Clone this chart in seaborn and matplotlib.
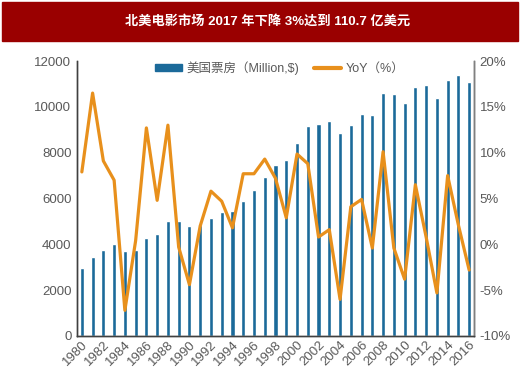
import numpy as np
import pandas as pd
import matplotlib
matplotlib.use("Agg")
import matplotlib.pyplot as plt
import seaborn as sns
from matplotlib.patches import Rectangle
from matplotlib.lines import Line2D
from matplotlib.ticker import FuncFormatter

years = list(range(1980, 2017))
box_office = [2966, 3461, 3753, 4015, 3723, 3766, 4262, 4437, 5032, 5018,
              4800, 4857, 5163, 5398, 5469, 5905, 6371, 6953, 7462, 7667,
              8422, 9160, 9240, 9380, 8846, 9221, 9675, 9644, 10618, 10574,
              10181, 10853, 10940, 10386, 11158, 11403, 11071]
yoy = [7.9, 16.5, 9.1, 7.0, -7.2, 0.4, 12.7, 4.8, 13.0, -0.3,
       -4.4, 2.0, 5.8, 4.7, 1.8, 7.7, 7.7, 9.3, 7.2, 2.9,
       9.85, 8.8, 0.8, 1.6, -6.0, 4.1, 4.9, -0.4, 10.1, -0.4,
       -3.8, 6.5, 0.8, -5.3, 7.5, 2.1, -2.8]
title = "北美电影市场 2017 年下降 3%达到 110.7 亿美元"
bar_label = "美国票房（Million,$)"
line_label = "YoY（%）"

df = pd.DataFrame({"year": years, "box": box_office, "yoy": yoy})
df["pos"] = np.arange(len(df))

sns.set_style("white")
plt.rcParams['font.family'] = ['Liberation Sans', 'Noto Sans CJK SC', 'DejaVu Sans']

bar_color = "#1b6a9a"
line_color = "#e8901c"
grey = "#595959"

fig = plt.figure(figsize=(5.2, 3.82), dpi=100)
fig.patches.append(Rectangle((2 / 520, 1 - 41 / 382), 516 / 520, 39 / 382,
                             transform=fig.transFigure, color="#9a0000", zorder=0))
fig.text(0.515, 1 - 21 / 382, title, color="white", fontsize=9.5, fontweight="bold",
         ha="center", va="center", family=['Liberation Sans', 'Noto Sans CJK SC'])

ax = fig.add_axes([77 / 520, 1 - 336 / 382, 397 / 520, 275 / 382])
sns.barplot(data=df, x="pos", y="box", color=bar_color, width=0.38,
            saturation=1, ax=ax, native_scale=True)
ax.set_ylim(0, 12000)
ax.set_yticks(range(0, 12001, 2000))
ax.set_xlim(-0.45, 36.45)
ax.set_xticks(df["pos"][::2])
ax.set_xticklabels([str(y) for y in years[::2]], rotation=45, ha="right",
                   rotation_mode="anchor")
ax.set_xlabel("")
ax.set_ylabel("")
ax.tick_params(axis="both", colors=grey, labelsize=9.5, length=0, pad=4)
ax.tick_params(axis="x", pad=2)

ax2 = ax.twinx()
sns.lineplot(data=df, x="pos", y="yoy", color=line_color, linewidth=2.3, ax=ax2)
ax2.set_ylim(-10, 20)
ax2.set_yticks(range(-10, 21, 5))
ax2.yaxis.set_major_formatter(FuncFormatter(lambda v, p: f"{int(v)}%"))
ax2.set_ylabel("")
ax2.tick_params(axis="y", colors=grey, labelsize=9.5, length=0, pad=4)

for a in (ax, ax2):
    a.spines["top"].set_visible(False)
    for s in ("left", "bottom", "right"):
        a.spines[s].set_color("#404040")
        a.spines[s].set_linewidth(1.0)
ax2.spines["right"].set_color("#808080")

handles = [Rectangle((0, 0), 1, 1, color=bar_color),
           Line2D([0], [0], color=line_color, linewidth=3)]
ax2.legend(handles, [bar_label, line_label], loc="upper center", ncol=2,
           frameon=False, fontsize=9, bbox_to_anchor=(0.51, 1.04),
           handlelength=2.2, handleheight=0.5, handletextpad=0.3,
           columnspacing=1.2, labelcolor=grey)

fig.savefig("out.png", dpi=100)
